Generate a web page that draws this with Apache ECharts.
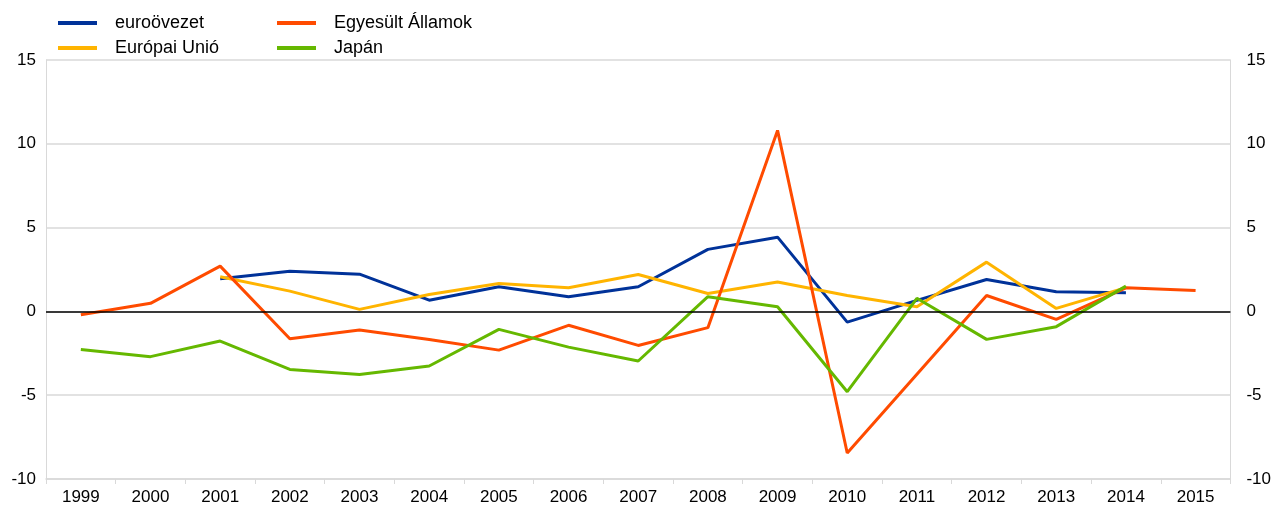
<!DOCTYPE html>
<html>
<head>
<meta charset="utf-8">
<script src="https://cdn.jsdelivr.net/npm/echarts@6/dist/echarts.min.js"></script>
<style>
  html, body { margin: 0; padding: 0; background: #fff; }
  #chart { width: 1274px; height: 509px; }
</style>
</head>
<body>
<div id="chart"></div>
<script>
// évek
var years = ['1999', '2000', '2001', '2002', '2003', '2004', '2005', '2006', '2007',
  '2008', '2009', '2010', '2011', '2012', '2013', '2014', '2015'];

var euroArea = [null, null, 1.95, 2.4, 2.22, 0.67, 1.47, 0.88, 1.47,
  3.7, 4.43, -0.64, 0.66, 1.9, 1.17, 1.11, null];
var eu = [null, null, 2.07, 1.21, 0.12, 1.01, 1.67, 1.41, 2.2,
  1.07, 1.75, 0.95, 0.28, 2.94, 0.18, 1.42, null];
var us = [-0.2, 0.48, 2.7, -1.63, -1.11, -1.68, -2.31, -0.83, -2.03,
  -0.97, 10.8, -8.45, -3.75, 0.95, -0.48, 1.41, 1.25];
var japan = [-2.27, -2.7, -1.77, -3.46, -3.76, -3.26, -1.07, -2.13, -2.96,
  0.88, 0.28, -4.79, 0.78, -1.67, -0.91, 1.51, null];

var yTicks = { min: -10, max: 15, interval: 5 };

var font = 'Liberation Sans, Arial, sans-serif';
var gridColor = '#d9d9d9';

function line(name, data, color) {
  return {
    name: name,
    type: 'line',
    data: data,
    symbol: 'none',
    lineStyle: { width: 3, color: color },
    itemStyle: { color: color },
    connectNulls: false,
    animation: false
  };
}

function yAxis(pos) {
  return {
    type: 'value',
    position: pos,
    min: yTicks.min,
    max: yTicks.max,
    interval: yTicks.interval,
    axisLine: { show: true, onZero: false, lineStyle: { color: gridColor, width: 1 } },
    axisTick: { show: false },
    axisLabel: {
      color: '#000', fontSize: 17, fontFamily: font,
      margin: pos === 'left' ? 10 : 16
    },
    splitLine: { show: pos === 'left', lineStyle: { color: gridColor, width: 1.5 } }
  };
}

var legendBase = {
  orient: 'vertical',
  top: 9,
  icon: 'rect',
  itemWidth: 39,
  itemHeight: 4,
  itemGap: 7,
  textStyle: { color: '#000', fontSize: 18, fontFamily: font, padding: [0, 0, 0, 13] }
};

var chart = echarts.init(document.getElementById('chart'));
var usSeries = line('Egyesült Államok', us, '#ff4b00');
usSeries.markLine = {
  silent: true,
  symbol: 'none',
  label: { show: false },
  lineStyle: { color: '#000', width: 1.5, type: 'solid' },
  data: [{ yAxis: 0 }]
};

chart.setOption({
  backgroundColor: '#fff',
  animation: false,
  grid: { left: 46, right: 43, top: 60, bottom: 30 },
  legend: [
    Object.assign({ left: 53, data: ['euroövezet', 'Európai Unió'] }, legendBase),
    Object.assign({ left: 272, data: ['Egyesült Államok', 'Japán'] }, legendBase)
  ],
  xAxis: {
    type: 'category',
    data: years,
    boundaryGap: true,
    axisLine: { onZero: false, lineStyle: { color: gridColor, width: 1.5 } },
    axisTick: { show: true, length: 5, lineStyle: { color: gridColor } },
    axisLabel: { color: '#000', fontSize: 17, fontFamily: font, margin: 10 }
  },
  yAxis: [yAxis('left'), yAxis('right')],
  series: [
    line('euroövezet', euroArea, '#003299'),
    line('Európai Unió', eu, '#ffb400'),
    usSeries,
    line('Japán', japan, '#65b800')
  ]
});
</script>
</body>
</html>
